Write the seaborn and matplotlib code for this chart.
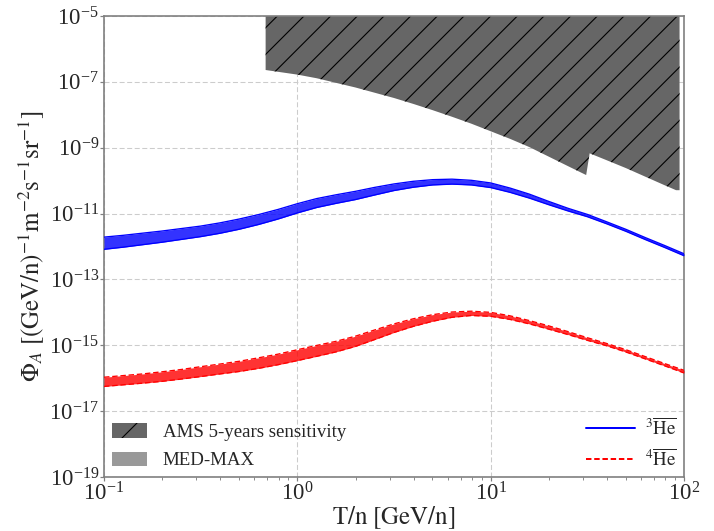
import numpy as np
import pandas as pd
import matplotlib
matplotlib.use("Agg")
import matplotlib.pyplot as plt
import seaborn as sns
from matplotlib.patches import Patch
from matplotlib.lines import Line2D

# ---- data (log10 of the values) ----
he3_log10T = [-1.0, -0.9, -0.8, -0.7, -0.6, -0.5, -0.4, -0.3, -0.2, -0.1, 0.0, 0.1, 0.2, 0.3, 0.4, 0.5,
              0.6, 0.7, 0.8, 0.9, 1.0, 1.1, 1.2, 1.3, 1.4, 1.5, 1.6, 1.7, 1.8, 1.9, 2.0]
he3_log10_hi = [-11.715, -11.66, -11.595, -11.53, -11.455, -11.38, -11.282, -11.165, -11.03, -10.875,
                -10.70, -10.545, -10.43, -10.325, -10.205, -10.10, -10.02, -9.97, -9.955, -9.99,
                -10.07, -10.225, -10.41, -10.63, -10.84, -11.025, -11.25, -11.48, -11.73, -11.97, -12.22]
he3_log10_lo = [-12.085, -12.02, -11.945, -11.87, -11.785, -11.70, -11.598, -11.475, -11.33, -11.165,
                -10.98, -10.815, -10.69, -10.575, -10.435, -10.30, -10.20, -10.13, -10.105, -10.13,
                -10.21, -10.355, -10.53, -10.73, -10.92, -11.095, -11.31, -11.54, -11.79, -12.03, -12.28]

he4_log10T = [-1.0, -0.9, -0.8, -0.7, -0.6, -0.5, -0.4, -0.3, -0.2, -0.1, 0.0, 0.1, 0.2, 0.3, 0.4, 0.5,
              0.6, 0.7, 0.8, 0.9, 1.0, 1.1, 1.2, 1.3, 1.4, 1.5, 1.6, 1.7, 1.8, 1.9, 2.0]
he4_log10_hi = [-15.97, -15.92, -15.87, -15.805, -15.735, -15.65, -15.57, -15.485, -15.38, -15.27,
                -15.135, -15.005, -14.88, -14.725, -14.535, -14.35, -14.195, -14.07, -13.99, -13.965,
                -14.00, -14.105, -14.25, -14.41, -14.585, -14.77, -14.945, -15.135, -15.345, -15.555, -15.76]
he4_log10_lo = [-16.25, -16.20, -16.15, -16.095, -16.025, -15.95, -15.87, -15.795, -15.70, -15.59,
                -15.465, -15.335, -15.20, -15.035, -14.825, -14.61, -14.425, -14.27, -14.15, -14.095,
                -14.12, -14.215, -14.35, -14.51, -14.675, -14.85, -15.015, -15.205, -15.415, -15.625, -15.84]

ams_log10T = [-0.164, 0.0, 0.1, 0.2, 0.3, 0.4, 0.5, 0.6, 0.7, 0.8, 0.9, 1.0, 1.1, 1.2, 1.3, 1.4,
              1.494, 1.512, 1.6, 1.7, 1.8, 1.9, 1.959]
ams_log10_lo = [-6.64, -6.78, -6.89, -7.03, -7.17, -7.33, -7.49, -7.67, -7.86, -8.06, -8.27, -8.50,
                -8.73, -8.98, -9.27, -9.56, -9.83, -9.17, -9.38, -9.62, -9.88, -10.14, -10.29]
ams_right_log10T = 1.977

x_ticks = [0.1, 1, 10, 100]
y_ticks = [1e-19, 1e-17, 1e-15, 1e-13, 1e-11, 1e-9, 1e-7, 1e-5]

labels_left = ["AMS 5-years sensitivity", "MED-MAX"]
labels_right = [r"$^{3}\overline{\rm He}$", r"$^{4}\overline{\rm He}$"]

# ---- tables ----
he3 = pd.DataFrame({"T": 10 ** np.array(he3_log10T),
                    "hi": 10 ** np.array(he3_log10_hi),
                    "lo": 10 ** np.array(he3_log10_lo)})
he4 = pd.DataFrame({"T": 10 ** np.array(he4_log10T),
                    "hi": 10 ** np.array(he4_log10_hi),
                    "lo": 10 ** np.array(he4_log10_lo)})
ams_T = 10 ** np.array(ams_log10T)
ams_lo = 10 ** np.array(ams_log10_lo)

# ---- style ----
sns.set_style("white")
plt.rcParams["font.family"] = ["Liberation Serif", "DejaVu Serif"]
plt.rcParams["mathtext.fontset"] = "stix"
plt.rcParams["hatch.linewidth"] = 1.0
plt.rcParams["lines.scale_dashes"] = False

DPI = 80
fig = plt.figure(figsize=(714 / DPI, 531 / DPI), dpi=DPI)
ax = fig.add_axes([104 / 714, 1 - 477 / 531, (684 - 104) / 714, (477 - 16) / 531])
ax.set_xscale("log")
ax.set_yscale("log")

# AMS sensitivity region
poly_x = list(ams_T) + [10 ** ams_right_log10T, 10 ** ams_right_log10T, ams_T[0]]
poly_y = list(ams_lo) + [ams_lo[-1], 1e-4, 1e-4]
ax.fill(poly_x, poly_y, facecolor="#666666", edgecolor="black", hatch="/", linewidth=0, zorder=2)

RED_DASH = (0, (4.9, 2.5))

# 3He band
ax.fill_between(he3["T"], he3["lo"], he3["hi"], color="#0000ff", alpha=0.8, linewidth=0, zorder=3)
sns.lineplot(data=he3, x="T", y="hi", ax=ax, color="#0000ff", lw=1.2, zorder=4, estimator=None)
sns.lineplot(data=he3, x="T", y="lo", ax=ax, color="#0000ff", lw=1.2, zorder=4, estimator=None)

# 4He band
ax.fill_between(he4["T"], he4["lo"], he4["hi"], color="#ff0000", alpha=0.8, linewidth=0, zorder=3)
sns.lineplot(data=he4, x="T", y="hi", ax=ax, color="#ff0000", lw=1.2, ls=RED_DASH, zorder=4, estimator=None)
sns.lineplot(data=he4, x="T", y="lo", ax=ax, color="#ff0000", lw=1.2, ls=RED_DASH, zorder=4, estimator=None)

ax.set_xlim(0.1, 100)
ax.set_ylim(1e-19, 1e-5)
ax.set_xticks(x_ticks)
ax.set_yticks(y_ticks)
ax.yaxis.set_minor_locator(matplotlib.ticker.NullLocator())

ax.grid(True, which="major", color="#cccccc", ls=(0, (4.5, 2.3)), lw=0.95, zorder=1)
ax.set_axisbelow(True)
for s in ax.spines.values():
    s.set_color("#808080")
    s.set_linewidth(1.5)
ax.tick_params(axis="both", which="major", direction="out", length=3.8, width=1.1,
               color="#808080", labelsize=20.6, pad=0.8, bottom=True, left=True)
ax.tick_params(axis="x", which="minor", direction="out", length=2.3, width=0.8,
               color="#808080", bottom=True)

ax.set_xlabel(r"$\rm T/n\ [GeV/n]$", fontsize=22.4, labelpad=-1)
ax.set_ylabel(r"$\Phi_A\ [({\rm GeV/n})^{-1}{\rm m}^{-2}{\rm s}^{-1}{\rm sr}^{-1}]$", fontsize=22.4, labelpad=2)

# legends
h_left = [Patch(facecolor="#666666", edgecolor="black", hatch="/", linewidth=0),
          Patch(facecolor="#999999", edgecolor="none")]
leg1 = ax.legend(h_left, labels_left, loc="lower left", frameon=False, fontsize=17.0,
                 handlelength=1.9, handleheight=0.8, labelspacing=0.55, borderaxespad=0.0,
                 handletextpad=0.8)
ax.add_artist(leg1)
h_right = [Line2D([], [], color="#0000ff", lw=1.8),
           Line2D([], [], color="#ff0000", lw=1.8, ls=RED_DASH)]
ax.legend(h_right, labels_right, loc="lower right", frameon=False, fontsize=17.0,
          handlelength=2.6, labelspacing=0.55, borderaxespad=0.0, handletextpad=0.5)

fig.savefig("out.png", dpi=DPI)
